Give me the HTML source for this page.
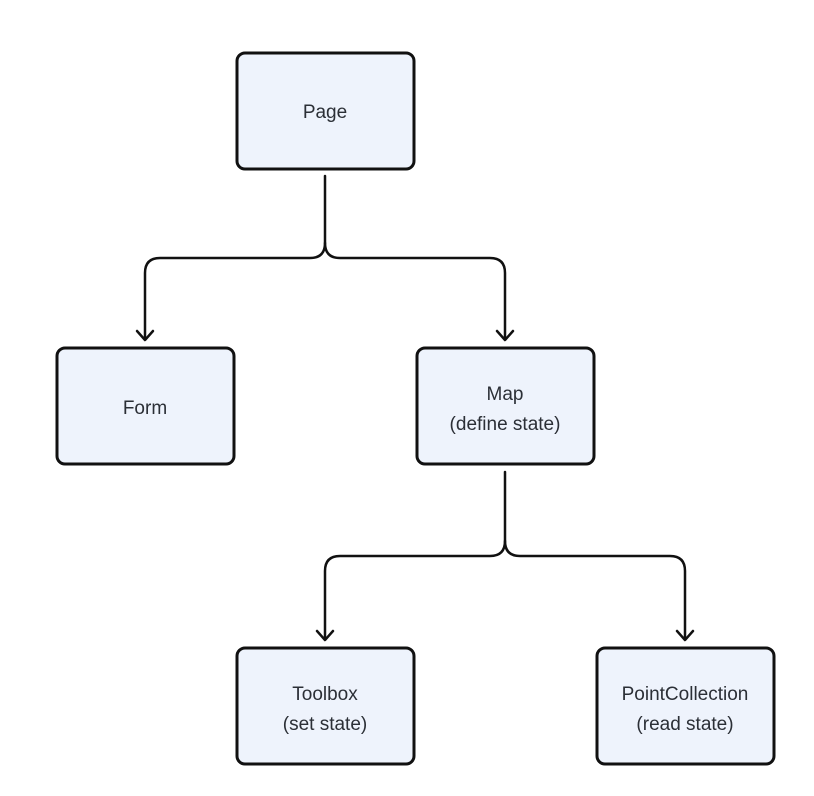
<!DOCTYPE html>
<html><head><style>
body{margin:0;background:#fff;}
svg{display:block}
text{font-family:"Liberation Sans",sans-serif;font-size:19px;fill:#2b2f36;text-anchor:middle}
</style></head><body>
<svg width="814" height="796" viewBox="0 0 814 796" xmlns="http://www.w3.org/2000/svg">
<g fill="#eef3fc" stroke="#111" stroke-width="3">
<rect x="237" y="53" width="177" height="116" rx="8"/>
<rect x="57" y="348" width="177" height="116" rx="8"/>
<rect x="417" y="348" width="177" height="116" rx="8"/>
<rect x="237" y="648" width="177" height="116" rx="8"/>
<rect x="597" y="648" width="177" height="116" rx="8"/>
</g>
<g fill="none" stroke="#111" stroke-width="2.5" stroke-linejoin="round" stroke-linecap="round">
<path d="M325,176 V243 Q325,258 310,258 H160 Q145,258 145,273 V339"/>
<path d="M325,243 Q325,258 340,258 H490 Q505,258 505,273 V339"/>
<polyline points="137,331 145,340 153,331"/>
<polyline points="497,331 505,340 513,331"/>
<path d="M505,472 V541 Q505,556 490,556 H340 Q325,556 325,571 V639"/>
<path d="M505,541 Q505,556 520,556 H670 Q685,556 685,571 V639"/>
<polyline points="317,631 325,640 333,631"/>
<polyline points="677,631 685,640 693,631"/>
</g>
<text x="325" y="118">Page</text>
<text x="145" y="414">Form</text>
<text x="505" y="400">Map</text>
<text x="505" y="430">(define state)</text>
<text x="325" y="700">Toolbox</text>
<text x="325" y="730">(set state)</text>
<text x="685" y="700">PointCollection</text>
<text x="685" y="730">(read state)</text>
</svg>
</body></html>
